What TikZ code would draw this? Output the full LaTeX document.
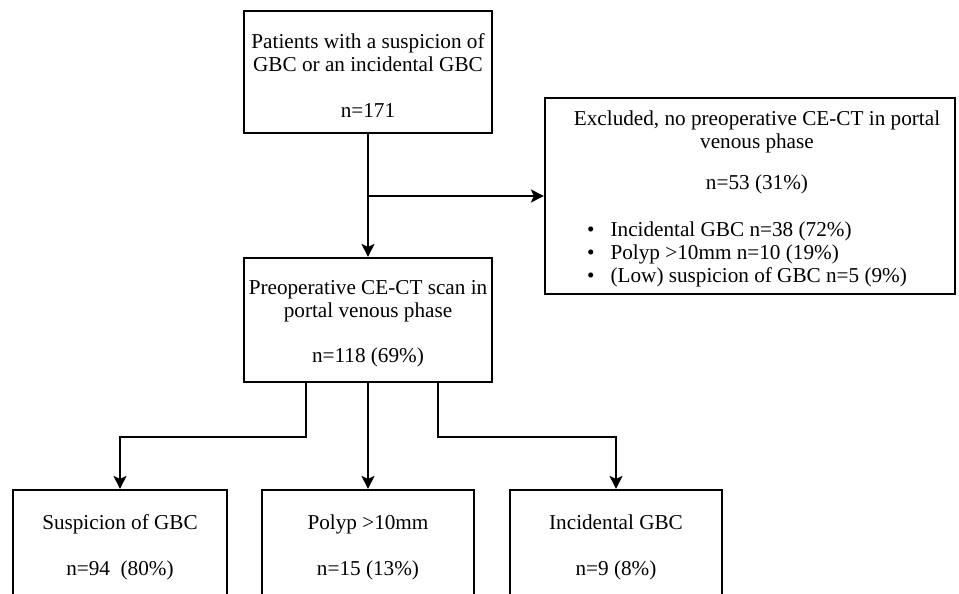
\documentclass[tikz,border=0pt]{standalone}
\usepackage{fontspec}
\setmainfont{Liberation Serif}
\usetikzlibrary{arrows.meta}
\begin{document}
\begin{tikzpicture}[x=1pt,y=-1pt,
  frame/.style={draw,line width=2.2pt,inner sep=0pt},
  txt/.style={align=center,inner sep=0pt,font=\fontsize{21.2}{23}\selectfont},
  arr/.style={line width=2.2pt,-{Stealth[length=13pt,width=13pt,inset=3pt]}}]
\useasboundingbox[clip] (0,0) rectangle (959,594);
% boxes
\node[frame,minimum width=248pt,minimum height=122pt] (top) at (368,72) {};
\node[frame,minimum width=248pt,minimum height=124pt] (scan) at (368,320) {};
\node[frame,minimum width=410pt,minimum height=196pt] (excl) at (750,196) {};
\node[frame,minimum width=214pt,minimum height=110pt] (b1) at (120,545) {};
\node[frame,minimum width=212pt,minimum height=110pt] (b2) at (368,545) {};
\node[frame,minimum width=212pt,minimum height=110pt] (b3) at (616,545) {};
% texts
\node[txt] (toptext) at ([yshift=-4pt]top.center)
  {Patients with a suspicion of\\GBC or an incidental GBC\\[23pt]n=171};
\node[txt] (scantext) at ([yshift=-4pt]scan.center)
  {Preoperative CE-CT scan in\\portal venous phase\\[22pt]n=118 (69\%)};
\node[txt,anchor=north] (excltitle) at (757,111)
  {Excluded, no preoperative CE-CT in portal\\venous phase\\[18pt]n=53 (31\%)};
\node[txt,align=left,anchor=north west] (excllist) at (587,220)
  {\begin{tabular}{@{}l@{\hspace{16pt}}l@{}}
  \textbullet & Incidental GBC n=38 (72\%)\\
  \textbullet & Polyp >10mm n=10 (19\%)\\
  \textbullet & (Low) suspicion of GBC n=5 (9\%)
  \end{tabular}};
\node[txt] (b1text) at ([yshift=-2pt]b1.center) {Suspicion of GBC\\[23pt]n=94~~(80\%)};
\node[txt] (b2text) at ([yshift=-2pt]b2.center) {Polyp >10mm\\[23pt]n=15 (13\%)};
\node[txt] (b3text) at ([yshift=-2pt]b3.center) {Incidental GBC\\[23pt]n=9 (8\%)};
% connectors
\coordinate (split) at (368,196);
\coordinate (t1) at (306,437);
\coordinate (t3) at (438,437);
\draw[arr] (top.south) -- (scan.north);
\draw[arr] (split) -- (excl.west);
\draw[arr] (scan.south -| t1) -- (t1) -| (b1.north);
\draw[arr] (scan.south) -- (b2.north);
\draw[arr] (scan.south -| t3) -- (t3) -| (b3.north);
\end{tikzpicture}
\end{document}
